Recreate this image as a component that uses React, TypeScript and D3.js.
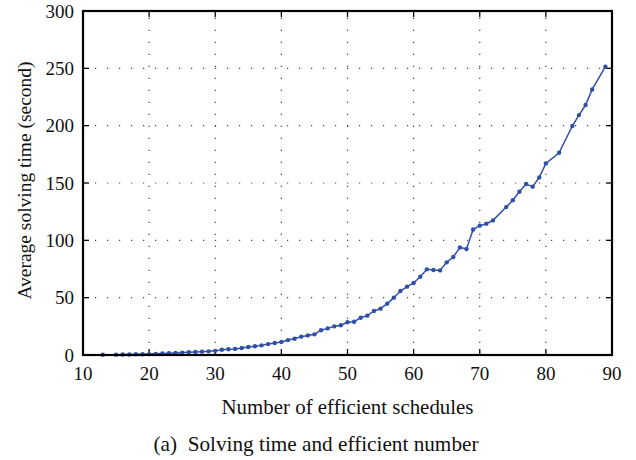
import React, { useEffect, useRef } from "react";
import * as d3 from "d3";

const WIDTH = 636;
const HEIGHT = 460;

// Number of efficient schedules
const schedules = [
  13, 15, 16, 17, 18, 19, 20, 21, 22, 23, 24, 25, 26, 27, 28, 29, 30,
  31, 32, 33, 34, 35, 36, 37, 38, 39, 40, 41, 42, 43, 44, 45, 46, 47, 48, 49, 50,
  51, 52, 53, 54, 55, 56, 57, 58, 59, 60, 61, 62, 63, 64, 65, 66, 67, 68, 69, 70,
  71, 72, 74, 75, 76, 77, 78, 79, 80, 82, 84, 85, 86, 87, 89,
];

// Average solving time (second)
const solvingTime = [
  0.2, 0.3, 0.4, 0.5, 0.6, 0.7, 0.8, 1.0, 1.3, 1.5, 1.8, 2.1, 2.4, 2.6, 2.9, 3.2, 3.6,
  4.6, 5.0, 5.3, 6.1, 7.0, 7.6, 8.4, 9.5, 10.5, 11.4, 13.0, 14.2, 16.0, 17.1, 18.0, 21.6, 23.2, 25.0, 25.9, 28.5,
  29.0, 32.5, 34.3, 38.4, 40.4, 44.8, 50.0, 55.8, 59.6, 62.8, 68.3, 74.7, 74.1, 73.8, 80.8, 85.4, 93.8, 92.5, 109.5, 112.8,
  114.5, 117.4, 129.0, 134.9, 142.4, 149.1, 146.8, 154.9, 167.1, 176.4, 199.7, 209.2, 218.0, 231.6, 251.4,
];

const xTicks = [10, 20, 30, 40, 50, 60, 70, 80, 90];
const yTicks = [0, 50, 100, 150, 200, 250, 300];

const xLabel = "Number of efficient schedules";
const yLabel = "Average solving time (second)";
const caption = "(a)  Solving time and efficient number";

const margin = { left: 83, right: 24, top: 11, bottom: 105 };
const FONT = "'Liberation Serif', 'DejaVu Serif', serif";
const LINE_COLOR = "#3050a8";

export default function App() {
  const ref = useRef<SVGSVGElement | null>(null);

  useEffect(() => {
    const svg = d3.select(ref.current);
    svg.selectAll("*").remove();

    const x = d3
      .scaleLinear()
      .domain([10, 90])
      .range([margin.left, WIDTH - margin.right]);
    const y = d3
      .scaleLinear()
      .domain([0, 300])
      .range([HEIGHT - margin.bottom, margin.top]);

    const [x0, x1] = x.range();
    const [yb, yt] = y.range();

    // dotted grid
    const grid = svg.append("g").attr("stroke", "#444").attr("stroke-width", 1.2)
      .attr("stroke-dasharray", "1.2,10.8");
    grid.selectAll("line.vx")
      .data(xTicks.slice(1, -1))
      .join("line")
      .attr("x1", (d) => x(d))
      .attr("x2", (d) => x(d))
      .attr("y1", yb)
      .attr("y2", yt);
    grid.selectAll("line.hy")
      .data(yTicks.slice(1, -1))
      .join("line")
      .attr("x1", x0)
      .attr("x2", x1)
      .attr("y1", (d) => y(d))
      .attr("y2", (d) => y(d));

    // inward ticks on all four sides
    const tickLen = 6;
    const ticks = svg.append("g").attr("stroke", "#000").attr("stroke-width", 1.3);
    xTicks.forEach((t) => {
      ticks.append("line").attr("x1", x(t)).attr("x2", x(t)).attr("y1", yb).attr("y2", yb - tickLen);
      ticks.append("line").attr("x1", x(t)).attr("x2", x(t)).attr("y1", yt).attr("y2", yt + tickLen);
    });
    yTicks.forEach((t) => {
      ticks.append("line").attr("x1", x0).attr("x2", x0 + tickLen).attr("y1", y(t)).attr("y2", y(t));
      ticks.append("line").attr("x1", x1).attr("x2", x1 - tickLen).attr("y1", y(t)).attr("y2", y(t));
    });

    // data line and markers
    const pts = schedules.map((s, i) => [s, solvingTime[i]] as [number, number]);
    const line = d3
      .line<[number, number]>()
      .x((d) => x(d[0]))
      .y((d) => y(d[1]));
    svg.append("path")
      .attr("d", line(pts))
      .attr("fill", "none")
      .attr("stroke", LINE_COLOR)
      .attr("stroke-width", 1.5);
    svg.append("g")
      .selectAll("circle")
      .data(pts)
      .join("circle")
      .attr("cx", (d) => x(d[0]))
      .attr("cy", (d) => y(d[1]))
      .attr("r", 2.2)
      .attr("fill", LINE_COLOR);

    // frame
    svg.append("rect")
      .attr("x", x0)
      .attr("y", yt)
      .attr("width", x1 - x0)
      .attr("height", yb - yt)
      .attr("fill", "none")
      .attr("stroke", "#000")
      .attr("stroke-width", 2.2);

    // tick labels
    const tl = svg.append("g").attr("font-family", FONT).attr("font-size", 19).attr("fill", "#111");
    tl.selectAll("text.x")
      .data(xTicks)
      .join("text")
      .attr("x", (d) => x(d))
      .attr("y", yb + 25)
      .attr("text-anchor", "middle")
      .text((d) => String(d));
    const tly = svg.append("g").attr("font-family", FONT).attr("font-size", 19).attr("fill", "#111");
    tly.selectAll("text.y")
      .data(yTicks)
      .join("text")
      .attr("x", x0 - 9)
      .attr("y", (d) => y(d) + 6.5)
      .attr("text-anchor", "end")
      .text((d) => String(d));

    // axis titles and caption
    svg.append("text")
      .attr("x", 347.5)
      .attr("y", 414)
      .attr("text-anchor", "middle")
      .attr("font-family", FONT)
      .attr("font-size", 20.5)
      .attr("fill", "#111")
      .attr("textLength", 252)
      .attr("lengthAdjust", "spacingAndGlyphs")
      .text(xLabel);
    svg.append("text")
      .attr("transform", `translate(31, 180.5) rotate(-90)`)
      .attr("text-anchor", "middle")
      .attr("font-family", FONT)
      .attr("font-size", 19)
      .attr("fill", "#111")
      .attr("textLength", 238)
      .attr("lengthAdjust", "spacingAndGlyphs")
      .text(yLabel);
    svg.append("text")
      .attr("x", 316)
      .attr("y", 451)
      .attr("text-anchor", "middle")
      .attr("font-family", FONT)
      .attr("font-size", 22)
      .attr("fill", "#111")
      .attr("xml:space", "preserve")
      .attr("textLength", 325)
      .attr("lengthAdjust", "spacingAndGlyphs")
      .text(caption);
  }, []);

  return (
    <svg
      ref={ref}
      width={WIDTH}
      height={HEIGHT}
      style={{ position: "absolute", left: 0, top: 0, background: "#fff" }}
    />
  );
}
